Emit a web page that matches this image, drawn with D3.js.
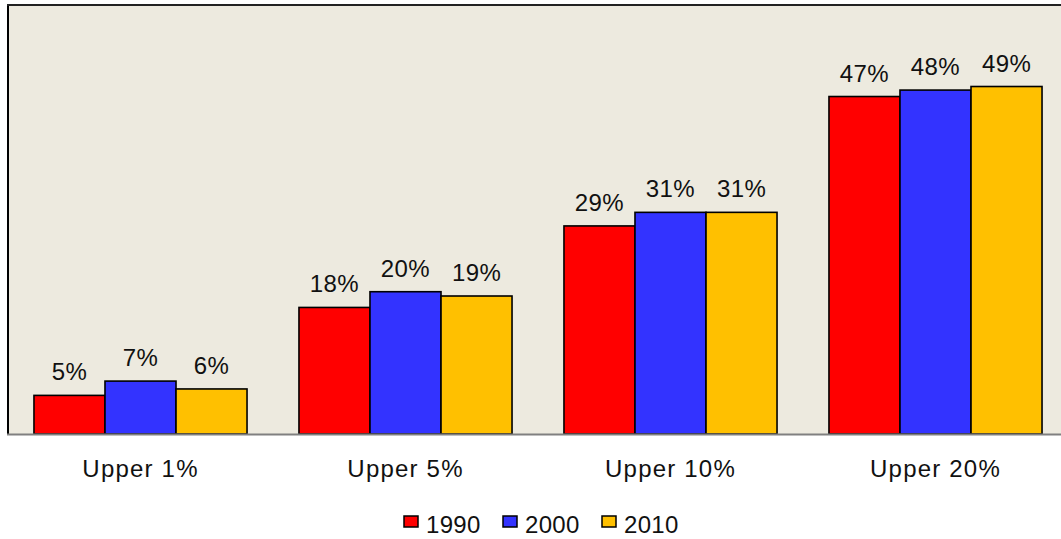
<!DOCTYPE html>
<html>
<head>
<meta charset="utf-8">
<script src="https://cdn.jsdelivr.net/npm/d3@7"></script>
<style>
  body { margin: 0; background: #ffffff; }
  svg text { font-family: "Liberation Sans", Arial, sans-serif; fill: #111; }
</style>
</head>
<body>
<div id="chart"></div>
<script>
var categories = ["Upper 1%", "Upper 5%", "Upper 10%", "Upper 20%"];
var years = ["1990", "2000", "2010"];
var values1990 = [5.4, 17.7, 29.1, 47.2];
var values2000 = [7.4, 19.9, 31.0, 48.1];
var values2010 = [6.3, 19.3, 31.0, 48.6];
var colors = ["#ff0000", "#3333ff", "#ffc000"];

var series = [values1990, values2000, values2010];

var width = 1061, height = 539;
var plot = { left: 8, right: 1068, top: 5, bottom: 434 };

var svg = d3.select("#chart")
  .append("svg")
    .attr("width", width)
    .attr("height", height);

// plot background
svg.append("rect")
    .attr("x", plot.left)
    .attr("y", plot.top)
    .attr("width", plot.right - plot.left)
    .attr("height", plot.bottom - plot.top)
    .style("fill", "#edeadf");

var x0 = d3.scaleBand()
    .domain(categories)
    .range([plot.left, plot.right])
    .paddingInner(0.196)
    .paddingOuter(0.098);

var x1 = d3.scaleBand()
    .domain(years)
    .range([0, x0.bandwidth()]);

var y = d3.scaleLinear()
    .domain([0, 60])
    .range([plot.bottom, plot.top]);

var groups = svg.selectAll(".group")
  .data(categories)
  .enter()
    .append("g")
    .attr("class", "group")
    .attr("transform", function(d) { return "translate(" + x0(d) + ",0)"; });

var cells = groups.selectAll(".bar")
  .data(function(d, i) {
      return years.map(function(yr, j) { return { year: yr, value: series[j][i], color: colors[j] }; });
  })
  .enter();

cells.append("rect")
    .attr("class", "bar")
    .attr("x", function(d) { return x1(d.year); })
    .attr("y", function(d) { return y(d.value); })
    .attr("width", x1.bandwidth())
    .attr("height", function(d) { return y(0) - y(d.value); })
    .style("fill", function(d) { return d.color; })
    .style("stroke", "#000")
    .style("stroke-width", 1.6);

cells.append("text")
    .attr("x", function(d) { return x1(d.year) + x1.bandwidth() / 2; })
    .attr("y", function(d) { return y(d.value) - 15; })
    .attr("text-anchor", "middle")
    .style("font-size", "24px")
    .style("letter-spacing", "0.4px")
    .text(function(d) { return Math.round(d.value) + "%"; });

// frame: left and top dark, bottom gray
svg.append("line")
    .attr("x1", plot.left).attr("x2", plot.left)
    .attr("y1", plot.top).attr("y2", plot.bottom)
    .style("stroke", "#000").style("stroke-width", 2);
svg.append("line")
    .attr("x1", plot.left - 1).attr("x2", plot.right)
    .attr("y1", plot.top).attr("y2", plot.top)
    .style("stroke", "#222").style("stroke-width", 2);
svg.append("line")
    .attr("x1", plot.left - 1).attr("x2", plot.right)
    .attr("y1", plot.bottom + 0.5).attr("y2", plot.bottom + 0.5)
    .style("stroke", "#808080").style("stroke-width", 2);

// category labels
var xAxis = svg.append("g")
    .attr("transform", "translate(0," + plot.bottom + ")")
    .call(d3.axisBottom(x0).tickSize(0).tickPadding(26));
xAxis.select(".domain").remove();
xAxis.selectAll("text")
    .style("font-size", "24px")
    .style("letter-spacing", "1.2px")
    .style("font-family", "'Liberation Sans', Arial, sans-serif")
    .style("fill", "#111");

// legend
var legend = svg.selectAll(".legend")
  .data(years)
  .enter()
    .append("g")
    .attr("class", "legend")
    .attr("transform", function(d, i) { return "translate(" + (404 + i * 99) + ",516)"; });

legend.append("rect")
    .attr("width", 14)
    .attr("height", 11)
    .style("fill", function(d, i) { return colors[i]; })
    .style("stroke", "#000")
    .style("stroke-width", 1.5);

legend.append("text")
    .attr("x", 22)
    .attr("y", 17)
    .style("font-size", "24px")
    .style("letter-spacing", "0.3px")
    .text(function(d) { return d; });
</script>
</body>
</html>
